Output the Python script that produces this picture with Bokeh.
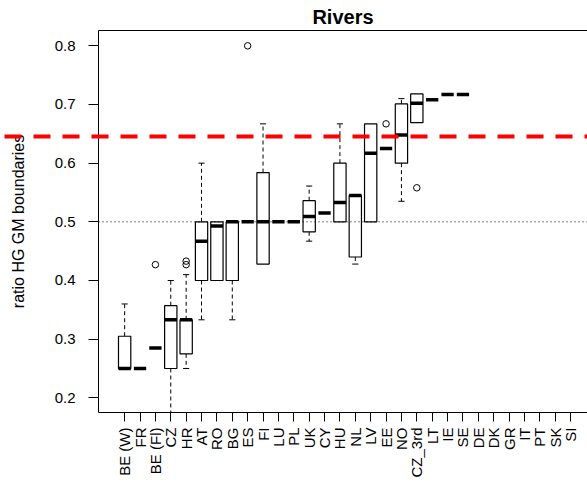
import math
import numpy as np
from bokeh.plotting import figure
from bokeh.models import FixedTicker, LinearAxis, Span, Range1d
from bokeh.embed import file_html
from bokeh.resources import INLINE

# ---------------- data ----------------
categories = ["BE (W)", "FR", "BE (Fl)", "CZ", "HR", "AT", "RO", "BG", "ES", "FI",
              "LU", "PL", "UK", "CY", "HU", "NL", "LV", "EE", "NO", "CZ_3rd",
              "LT", "IE", "SE", "DE", "DK", "GR", "IT", "PT", "SK", "SI"]
nan = float("nan")
whisker_low = [0.25, 0.25, 0.285, 0.167, 0.25, 0.333, 0.40, 0.333, 0.50, 0.428,
               0.50, 0.50, 0.467, 0.515, 0.50, 0.428, 0.50, 0.625, 0.535, 0.669,
               0.708, 0.717, 0.717, nan, nan, nan, nan, nan, nan, nan]
q1 = [0.25, 0.25, 0.285, 0.25, 0.275, 0.40, 0.40, 0.40, 0.50, 0.428,
      0.50, 0.50, 0.483, 0.515, 0.50, 0.44, 0.50, 0.625, 0.60, 0.669,
      0.708, 0.717, 0.717, nan, nan, nan, nan, nan, nan, nan]
median = [0.25, 0.25, 0.285, 0.333, 0.333, 0.467, 0.493, 0.50, 0.50, 0.50,
          0.50, 0.50, 0.509, 0.515, 0.533, 0.545, 0.617, 0.625, 0.648, 0.702,
          0.708, 0.717, 0.717, nan, nan, nan, nan, nan, nan, nan]
q3 = [0.305, 0.25, 0.285, 0.357, 0.333, 0.50, 0.50, 0.50, 0.50, 0.584,
      0.50, 0.50, 0.536, 0.515, 0.60, 0.545, 0.667, 0.625, 0.701, 0.718,
      0.708, 0.717, 0.717, nan, nan, nan, nan, nan, nan, nan]
whisker_high = [0.36, 0.25, 0.285, 0.40, 0.41, 0.60, 0.50, 0.50, 0.50, 0.667,
                0.50, 0.50, 0.561, 0.515, 0.667, 0.545, 0.667, 0.625, 0.71, 0.718,
                0.708, 0.717, 0.717, nan, nan, nan, nan, nan, nan, nan]
outlier_cat = ["BE (Fl)", "HR", "HR", "ES", "EE", "CZ_3rd"]
outlier_val = [0.427, 0.427, 0.433, 0.80, 0.667, 0.558]
threshold = 0.645
reference_level = 0.5
y_ticks = [0.2, 0.3, 0.4, 0.5, 0.6, 0.7, 0.8]

# ---------------- derived ----------------
FONT = "Liberation Sans"
W, H = 587, 494
pos = np.arange(1, len(categories) + 1, dtype=float)
wl = np.array(whisker_low, dtype=float)
a1 = np.array(q1, dtype=float)
md = np.array(median, dtype=float)
a3 = np.array(q3, dtype=float)
wh = np.array(whisker_high, dtype=float)
half = 0.4
cap = 0.2

p = figure(width=W, height=H, output_backend="svg", toolbar_location=None,
           x_range=Range1d(-0.7, 31.1), y_range=Range1d(0.175, 0.8261),
           min_border_left=98, min_border_right=0, min_border_top=30,
           min_border_bottom=82, x_axis_type=None, y_axis_type=None)
p.outline_line_color = None
p.background_fill_color = "white"
p.border_fill_color = "white"
p.xgrid.visible = False
p.ygrid.visible = False

p.title.text = "Rivers"
p.title.align = "center"
p.title.text_font = FONT
p.title.text_font_size = "20px"
p.title.text_font_style = "bold"
p.title.text_color = "black"
p.title.standoff = 6

# whiskers
hi_m = wh > a3
lo_m = wl < a1
p.segment(x0=pos[hi_m], y0=a3[hi_m], x1=pos[hi_m], y1=wh[hi_m],
          line_color="black", line_width=1, line_dash="4 3")
p.segment(x0=pos[hi_m] - cap, y0=wh[hi_m], x1=pos[hi_m] + cap, y1=wh[hi_m],
          line_color="black", line_width=1)
p.segment(x0=pos[lo_m], y0=a1[lo_m], x1=pos[lo_m], y1=wl[lo_m],
          line_color="black", line_width=1, line_dash="4 3")
p.segment(x0=pos[lo_m] - cap, y0=wl[lo_m], x1=pos[lo_m] + cap, y1=wl[lo_m],
          line_color="black", line_width=1)

# boxes
bm = a3 > a1
p.quad(left=pos[bm] - half, right=pos[bm] + half, bottom=a1[bm], top=a3[bm],
       fill_color="white", line_color="black", line_width=1.2)

# medians
mm = ~np.isnan(md)
p.segment(x0=pos[mm] - half, y0=md[mm], x1=pos[mm] + half, y1=md[mm],
          line_color="black", line_width=3.5, line_cap="butt")

# outliers
ox = [categories.index(c) + 1 for c in outlier_cat]
p.scatter(x=ox, y=outlier_val, marker="circle", size=6.5, fill_color=None,
          line_color="black", line_width=1)

# dotted reference line at 0.5
p.add_layout(Span(location=reference_level, dimension="width", line_color="black",
                  line_width=1, line_dash="1 3"))

# axes
yax = LinearAxis(ticker=FixedTicker(ticks=y_ticks))
yax.axis_label = "ratio HG GM boundaries"
yax.axis_label_text_font = FONT
yax.axis_label_text_font_size = "16px"
yax.axis_label_text_font_style = "normal"
yax.axis_label_text_color = "black"
yax.axis_label_standoff = 25
yax.major_label_text_font = FONT
yax.major_label_text_font_size = "15px"
yax.major_label_text_color = "black"
yax.major_label_standoff = 13
yax.major_tick_out = 10
yax.major_tick_in = 0
yax.minor_tick_out = 0
yax.minor_tick_in = 0
yax.axis_line_color = "black"
yax.major_tick_line_color = "black"
p.add_layout(yax, "left")

# red dashed threshold line across the full page width, drawn as the
# inward tick of a label-less right-hand axis (guides are not clipped)
rax = LinearAxis(ticker=FixedTicker(ticks=[threshold]))
rax.major_label_overrides = {threshold: ""}
rax.major_label_text_font_size = "0px"
rax.major_label_standoff = 0
rax.axis_line_color = None
rax.major_tick_out = 0
rax.major_tick_in = W + 20
rax.minor_tick_out = 0
rax.minor_tick_in = 0
rax.major_tick_line_color = "#ff0000"
rax.major_tick_line_width = 4
rax.major_tick_line_dash = "17 12"
rax.major_tick_line_dash_offset = 14
rax.major_tick_line_cap = "butt"
p.add_layout(rax, "right")

xax = LinearAxis(ticker=FixedTicker(ticks=list(pos)))
xax.major_label_overrides = {float(i): c for i, c in zip(pos, categories)}
xax.major_label_overrides.update({int(i): c for i, c in zip(pos, categories)})
xax.major_label_orientation = math.pi / 2
xax.major_label_text_font = FONT
xax.major_label_text_font_size = "15px"
xax.major_label_text_color = "black"
xax.major_label_standoff = 6
xax.major_tick_out = 9
xax.major_tick_in = 0
xax.minor_tick_out = 0
xax.minor_tick_in = 0
xax.axis_line_color = "black"
xax.major_tick_line_color = "black"
p.add_layout(xax, "below")

tax = LinearAxis(ticker=FixedTicker(ticks=[]))
tax.major_label_text_font_size = "0px"
tax.major_tick_out = 0
tax.major_tick_in = 0
tax.minor_tick_out = 0
tax.axis_line_color = "black"
p.add_layout(tax, "above")

open("out.html", "w").write(file_html(p, INLINE))
